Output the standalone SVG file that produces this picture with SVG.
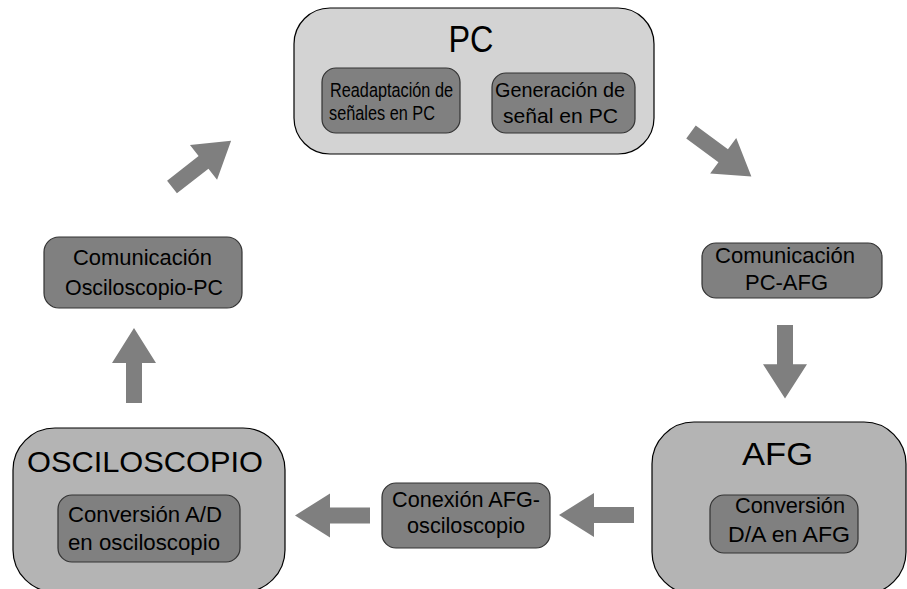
<svg xmlns="http://www.w3.org/2000/svg" width="907" height="589" viewBox="0 0 907 589">
<style>
text{font-family:"Liberation Sans",Arial,sans-serif;fill:#000;text-anchor:middle}
.big{stroke:#000;stroke-width:1.2}
.pc{fill:#d3d3d3}
.dev{fill:#b4b4b4}
.inner{fill:#808080;stroke:#333;stroke-width:1.2}
.t{font-size:22.5px}
.s{font-size:20.5px}
.arr{fill:#7f7f7f}
</style>
<defs>
<path id="arrow" d="M0,-8 L40,-8 L40,-22 L75,0 L40,22 L40,8 L0,8 Z"/>
</defs>
<g id="pc">
<rect class="big pc" x="294" y="8" width="360" height="146" rx="36"/>
<text x="471" y="52" font-size="36" textLength="45" lengthAdjust="spacingAndGlyphs">PC</text>
<g id="readaptacion">
<rect class="inner" x="322" y="68" width="138" height="65" rx="14"/>
<text class="s" x="391.5" y="97" textLength="123" lengthAdjust="spacingAndGlyphs">Readaptación de</text>
<text class="s" x="382" y="120" textLength="106" lengthAdjust="spacingAndGlyphs">señales en PC</text>
</g>
<g id="generacion">
<rect class="inner" x="492" y="73" width="143" height="60" rx="14"/>
<text class="s" x="560" y="97" textLength="130" lengthAdjust="spacingAndGlyphs">Generación de</text>
<text class="s" x="560.5" y="123" textLength="115" lengthAdjust="spacingAndGlyphs">señal en PC</text>
</g>
</g>
<g id="osciloscopio">
<rect class="big dev" x="13" y="428" width="272" height="164" rx="42"/>
<text x="145" y="472" font-size="29" textLength="236" lengthAdjust="spacingAndGlyphs">OSCILOSCOPIO</text>
<g id="conversion-ad">
<rect class="inner" x="58" y="495" width="182" height="67" rx="14"/>
<text class="t" x="145" y="522" textLength="154" lengthAdjust="spacingAndGlyphs">Conversión A/D</text>
<text class="t" x="144" y="550" textLength="152" lengthAdjust="spacingAndGlyphs">en osciloscopio</text>
</g>
</g>
<g id="afg">
<rect class="big dev" x="652" y="422" width="254" height="172" rx="42"/>
<text x="777.5" y="465" font-size="31" textLength="71" lengthAdjust="spacingAndGlyphs">AFG</text>
<g id="conversion-da">
<rect class="inner" x="710" y="495" width="148" height="58" rx="14"/>
<text class="t" x="790" y="513" textLength="110" lengthAdjust="spacingAndGlyphs">Conversión</text>
<text class="t" x="789" y="542" textLength="122" lengthAdjust="spacingAndGlyphs">D/A en AFG</text>
</g>
</g>
<g id="com-osc-pc">
<rect class="inner" x="44" y="237" width="198" height="71" rx="15"/>
<text class="t" x="142.5" y="265" textLength="139" lengthAdjust="spacingAndGlyphs">Comunicación</text>
<text class="t" x="144" y="295" textLength="158" lengthAdjust="spacingAndGlyphs">Osciloscopio-PC</text>
</g>
<g id="com-pc-afg">
<rect class="inner" x="702" y="243" width="180" height="55" rx="14"/>
<text class="t" x="785" y="263" textLength="140" lengthAdjust="spacingAndGlyphs">Comunicación</text>
<text class="t" x="786.5" y="290" textLength="83" lengthAdjust="spacingAndGlyphs">PC-AFG</text>
</g>
<g id="conexion">
<rect class="inner" x="382" y="483" width="168" height="65" rx="14"/>
<text class="t" x="466" y="507" textLength="148" lengthAdjust="spacingAndGlyphs">Conexión AFG-</text>
<text class="t" x="466" y="533" textLength="118" lengthAdjust="spacingAndGlyphs">osciloscopio</text>
</g>
<g id="connectors" class="arr">
<use href="#arrow" transform="translate(172,187) rotate(-38)"/>
<use href="#arrow" transform="translate(691,132) rotate(36.4)"/>
<use href="#arrow" transform="translate(785,325) rotate(90) scale(0.98,1)"/>
<use href="#arrow" transform="translate(634,515) rotate(180)"/>
<use href="#arrow" transform="translate(370,515.5) rotate(180)"/>
<use href="#arrow" transform="translate(134,403) rotate(-90)"/>
</g>
</svg>
